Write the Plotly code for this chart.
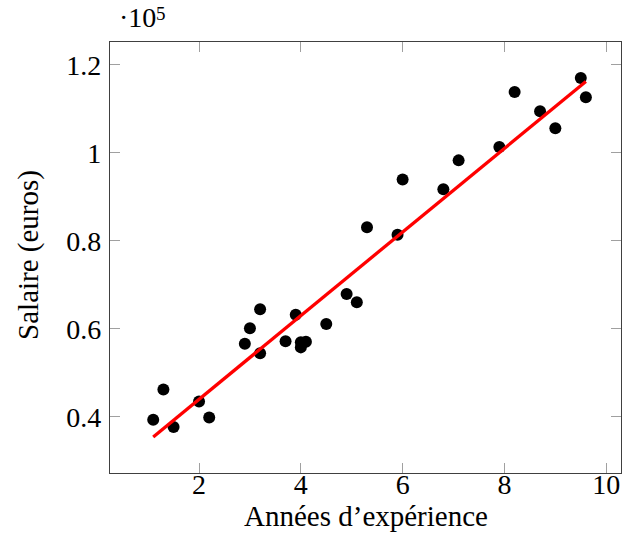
import plotly.graph_objects as go

# Data (years of experience, salary in euros)
experience = [1.1, 1.3, 1.5, 2.0, 2.2, 2.9, 3.0, 3.2, 3.2, 3.7, 3.9, 4.0, 4.0, 4.1,
              4.5, 4.9, 5.1, 5.3, 5.9, 6.0, 6.8, 7.1, 7.9, 8.2, 8.7, 9.0, 9.5, 9.6]
salary = [39343, 46205, 37731, 43525, 39891, 56642, 60150, 54445, 64445, 57189,
          63218, 55794, 56957, 57081, 61111, 67938, 66029, 83088, 81363, 93940,
          91738, 98273, 101302, 113812, 109431, 105582, 116969, 112635]

# Regression line endpoints
fit_x = [1.1, 9.6]
fit_y = [35450, 116200]

x_ticks = [2, 4, 6, 8, 10]
y_ticks = [40000, 60000, 80000, 100000, 120000]
y_tick_text = ["0.4", "0.6", "0.8", "1", "1.2"]

FONT = "Liberation Serif"

fig = go.Figure()
fig.add_trace(go.Scatter(x=experience, y=salary, mode="markers",
                         marker=dict(color="black", size=12, line=dict(width=0)),
                         showlegend=False))
fig.add_trace(go.Scatter(x=fit_x, y=fit_y, mode="lines",
                         line=dict(color="#ff0000", width=3.3),
                         showlegend=False))

axis_common = dict(showline=True, linecolor="#404040", linewidth=1.2, mirror="allticks",
                   ticks="inside", ticklen=10, tickcolor="#a0a0a0", tickwidth=1,
                   showgrid=False, zeroline=False, automargin=False,
                   tickfont=dict(family=FONT, size=28, color="black"))

fig.update_layout(
    width=622, height=550,
    margin=dict(l=110, r=1, t=42, b=77, autoexpand=False),
    paper_bgcolor="white", plot_bgcolor="white",
    xaxis=dict(range=[0.251, 10.29], tickvals=x_ticks, ticktext=[str(v) for v in x_ticks],
               ticklabelstandoff=-14, **axis_common),
    yaxis=dict(range=[27260, 125160], tickvals=y_ticks, ticktext=y_tick_text,
               ticklabelstandoff=2, **axis_common),
    font=dict(family=FONT, color="black"),
    annotations=[
        dict(text="Années d’expérience", xref="paper", yref="paper",
             x=0.5, y=-0.100, xanchor="center", yanchor="middle",
             showarrow=False, font=dict(family=FONT, size=29)),
        dict(text="Salaire (euros)", xref="paper", yref="paper",
             x=-0.1585, y=0.506, xanchor="center", yanchor="middle", textangle=-90,
             showarrow=False, font=dict(family=FONT, size=29)),
        dict(text="·10", xref="paper", yref="paper",
             x=0.0137, y=1.058, xanchor="left", yanchor="middle",
             showarrow=False, font=dict(family=FONT, size=28)),
        dict(text="5", xref="paper", yref="paper",
             x=0.086, y=1.067, xanchor="left", yanchor="middle",
             showarrow=False, font=dict(family=FONT, size=19)),
    ],
)

fig.write_html("out.html", config={"displayModeBar": False},
               post_script="document.body.style.margin='0';document.body.style.overflow='hidden';")
